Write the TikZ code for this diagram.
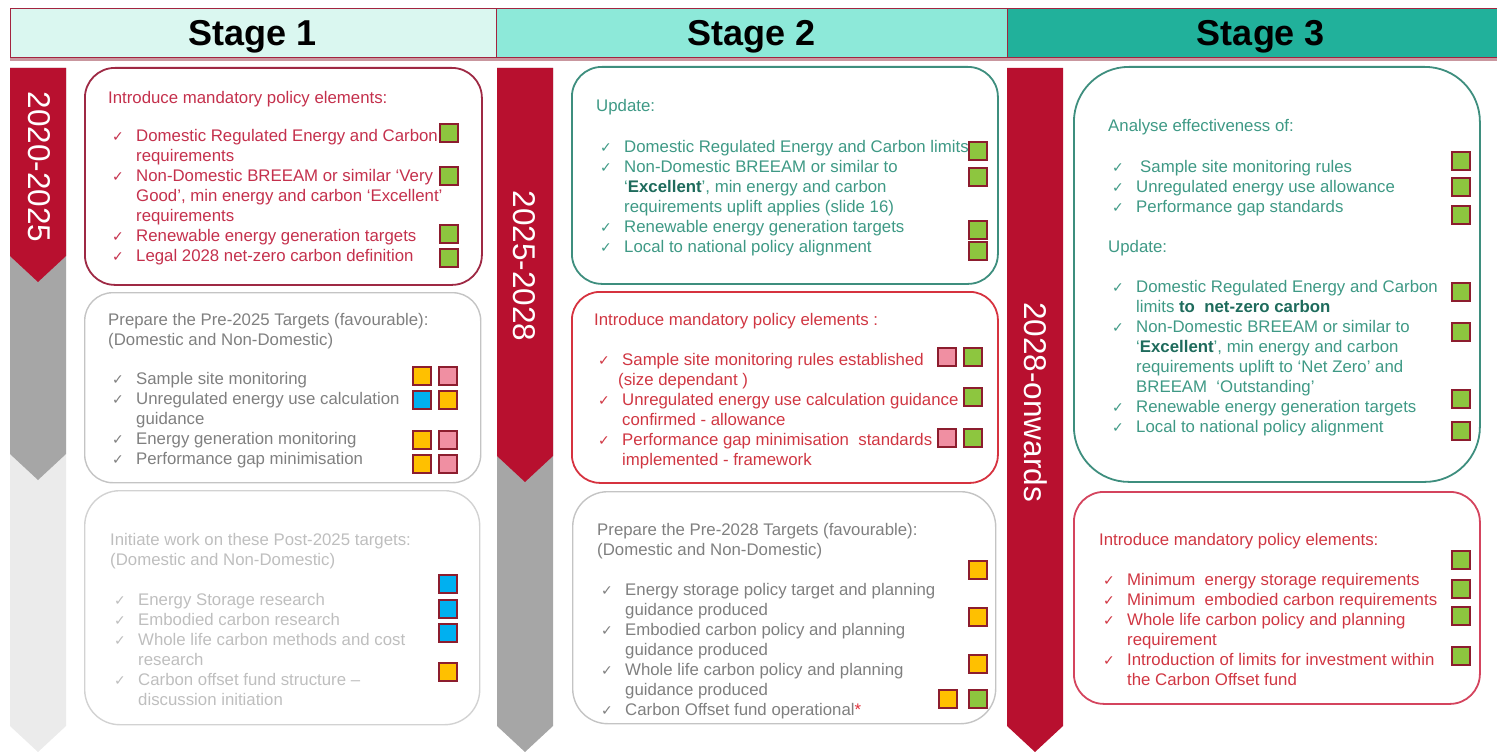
\documentclass[tikz,border=0pt]{standalone}
\usepackage{fontspec}
\setmainfont{Liberation Sans}
\newfontfamily\ckfont{DejaVu Sans}
\usetikzlibrary{positioning}
\definecolor{hdrline}{HTML}{A3243F}
\definecolor{hdrshadow}{HTML}{C9979F}
\definecolor{stgone}{HTML}{DAF7F0}
\definecolor{stgtwo}{HTML}{8DE9D9}
\definecolor{stgthree}{HTML}{21B19B}
\definecolor{chevred}{HTML}{B8102F}
\definecolor{chevgray}{HTML}{A6A6A6}
\definecolor{chevlight}{HTML}{EBEBEB}
\definecolor{maroon}{HTML}{9E2944}
\definecolor{redtxt}{HTML}{C4304C}
\definecolor{redline}{HTML}{D6323F}
\definecolor{redtxtb}{HTML}{D03642}
\definecolor{pinkline}{HTML}{D4445E}
\definecolor{tealline}{HTML}{3E8E7E}
\definecolor{tealtxt}{HTML}{3E9985}
\definecolor{tealdark}{HTML}{1E6B5C}
\definecolor{grayline}{HTML}{C4C4C4}
\definecolor{graytxt}{HTML}{7F7F7F}
\definecolor{paleline}{HTML}{D2D2D2}
\definecolor{paletxt}{HTML}{BEBEBE}
\definecolor{sqline}{HTML}{8C1D2E}
\definecolor{sqgreen}{HTML}{8DC63F}
\definecolor{sqorange}{HTML}{FFC000}
\definecolor{sqpink}{HTML}{F08FA2}
\definecolor{sqblue}{HTML}{00B0F0}
\definecolor{starred}{HTML}{E0303A}
\newcommand{\tickmark}{\hspace*{4pt}\makebox[24pt][l]{\ckfont\fontsize{14}{20}\selectfont ✓}}
\newcommand{\tickpad}{\hspace*{28pt}}

\begin{document}
\begin{tikzpicture}[x=1pt, y=-1pt,
  stagecell/.style={draw=hdrline, line width=0.8pt, anchor=north west, inner sep=0pt, minimum height=49pt},
  stagelabel/.style={anchor=base, font=\fontsize{36}{40}\selectfont\bfseries, text=black},
  yearlabel/.style={text=white, rotate=-90, font=\fontsize{31.5}{36}\selectfont},
  panel/.style={anchor=north west, inner sep=0pt, rounded corners=#1, line width=1.8pt},
  paneltext/.style={anchor=north west, inner sep=0pt, align=left, font=\fontsize{16.8}{20}\selectfont},
  sq/.style={draw=sqline, line width=2pt, minimum size=18pt, inner sep=0pt}]
\useasboundingbox (0,0) rectangle (1497,752);

% stage header
\node[stagecell, fill=stgone, minimum width=486pt] (hdr1) at (10,8) {};
\node[stagecell, fill=stgtwo, minimum width=511pt] (hdr2) at (496,8) {};
\node[stagecell, fill=stgthree, minimum width=510pt] (hdr3) at (1007,8) {};
\draw[hdrshadow, line width=3pt] ([yshift=-1.5pt]hdr1.south west) -- ([yshift=-1.5pt]hdr3.south east);
\node[stagelabel] (st1) at (253,46) {Stage 1};
\node[stagelabel] (st2) at (752,46) {Stage 2};
\node[stagelabel] (st3) at (1261,46) {Stage 3};

% timeline chevrons
\foreach \lx/\tip/\col in {10/752/chevlight, 10/480/chevgray, 10/282/chevred, 497/752/chevgray, 497/482/chevred, 1007/752/chevred}
  \fill[\col] (\lx,68) -- (\lx+56,68) -- (\lx+56,\tip-26) -- (\lx+28,\tip) -- (\lx,\tip-26) -- cycle;
\node[yearlabel] (yr1) at (39,167) {2020-2025};
\node[yearlabel] (yr2) at (524,266) {2025-2028};
\node[yearlabel] (yr3) at (1036,402) {2028-onwards};

% stage 1
\node[panel=30pt, draw=maroon, minimum width=397pt, minimum height=217pt] (polA) at (84,67) {};
\node[paneltext, text=redtxt] (polAtxt) at (108,89) {\strut Introduce mandatory policy elements:\\[18pt]
\tickmark Domestic Regulated Energy and Carbon\\
\tickpad requirements\\
\tickmark Non-Domestic BREEAM or similar ‘Very\\
\tickpad Good’, min energy and carbon ‘Excellent’\\
\tickpad requirements\\
\tickmark Renewable energy generation targets\\
\tickmark Legal 2028 net-zero carbon definition};

\node[panel=28pt, draw=grayline, line width=1.4pt, minimum width=396pt, minimum height=190pt] (prepA) at (84,292) {};
\node[paneltext, text=graytxt] (prepAtxt) at (108,311) {\strut Prepare the Pre-2025 Targets (favourable):\\
(Domestic and Non-Domestic)\\[19pt]
\tickmark Sample site monitoring\\
\tickmark Unregulated energy use calculation\\
\tickpad guidance\\
\tickmark Energy generation monitoring\\
\tickmark Performance gap minimisation};

\node[panel=35pt, draw=paleline, line width=1.4pt, minimum width=395pt, minimum height=234pt] (initA) at (84,490) {};
\node[paneltext, text=paletxt] (initAtxt) at (110,531) {\strut Initiate work on these Post-2025 targets:\\
(Domestic and Non-Domestic)\\[20pt]
\tickmark Energy Storage research\\
\tickmark Embodied carbon research\\
\tickmark Whole life carbon methods and cost\\
\tickpad research\\
\tickmark Carbon offset fund structure –\\
\tickpad discussion initiation};

% stage 2
\node[panel=30pt, draw=tealline, minimum width=426pt, minimum height=217pt] (updB) at (571,66) {};
\node[paneltext, text=tealtxt] (updBtxt) at (596,97) {\strut Update:\\[21pt]
\tickmark Domestic Regulated Energy and Carbon limits\\
\tickmark Non-Domestic BREEAM or similar to\\
\tickpad ‘\textbf{\color{tealdark}Excellent}’, min energy and carbon\\
\tickpad requirements uplift applies (slide 16)\\
\tickmark Renewable energy generation targets\\
\tickmark Local to national policy alignment};

\node[panel=28pt, draw=redline, minimum width=426pt, minimum height=191pt] (polB) at (571,291) {};
\node[paneltext, text=redtxtb] (polBtxt) at (594,311) {\strut Introduce mandatory policy elements :\\[20pt]
\tickmark Sample site monitoring rules established\\
\hspace*{24pt}(size dependant )\\
\tickmark Unregulated energy use calculation guidance\\
\tickpad confirmed - allowance\\
\tickmark Performance gap minimisation\ \ standards\\
\tickpad implemented - framework};

\node[panel=35pt, draw=grayline, line width=1.4pt, minimum width=423pt, minimum height=232pt] (prepB) at (572,491) {};
\node[paneltext, text=graytxt] (prepBtxt) at (597,521) {\strut Prepare the Pre-2028 Targets (favourable):\\
(Domestic and Non-Domestic)\\[20pt]
\tickmark Energy storage policy target and planning\\
\tickpad guidance produced\\
\tickmark Embodied carbon policy and planning\\
\tickpad guidance produced\\
\tickmark Whole life carbon policy and planning\\
\tickpad guidance produced\\
\tickmark Carbon Offset fund operational\textcolor{starred}{*}};

% stage 3
\node[panel=55pt, draw=tealline, minimum width=406pt, minimum height=415pt] (anaC) at (1073,66) {};
\node[paneltext, text=tealtxt] (anaCtxt) at (1108,117) {\strut Analyse effectiveness of:\\[21pt]
\tickmark\hspace*{4pt}Sample site monitoring rules\\
\tickmark Unregulated energy use allowance\\
\tickmark Performance gap standards\\[20pt]
Update:\\[20pt]
\tickmark Domestic Regulated Energy and Carbon\\
\tickpad limits \textbf{\color{tealdark}to\ \ net-zero carbon}\\
\tickmark Non-Domestic BREEAM or similar to\\
\tickpad ‘\textbf{\color{tealdark}Excellent}’, min energy and carbon\\
\tickpad requirements uplift to ‘Net Zero’ and\\
\tickpad BREEAM\ \ ‘Outstanding’\\
\tickmark Renewable energy generation targets\\
\tickmark Local to national policy alignment};

\node[panel=30pt, draw=pinkline, minimum width=406pt, minimum height=212pt] (polC) at (1073,491) {};
\node[paneltext, text=redtxtb] (polCtxt) at (1099,531) {\strut Introduce mandatory policy elements:\\[20pt]
\tickmark Minimum\ \ energy storage requirements\\
\tickmark Minimum\ \ embodied carbon requirements\\
\tickmark Whole life carbon policy and planning\\
\tickpad requirement\\
\tickmark Introduction of limits for investment within\\
\tickpad the Carbon Offset fund};

% status squares
\foreach \c/\x/\y [count=\i] in {
  green/449/133, green/449/176, green/449/234, green/449/258,
  orange/422/376, pink/448/376, blue/422/400, orange/448/400,
  orange/422/440, pink/448/440, orange/422/464, pink/448/464,
  blue/448/584, blue/448/609, blue/448/633, orange/448/672,
  green/978/151, green/978/177, green/978/230, green/978/251,
  pink/947/357, green/973/357, green/973/397, pink/947/438, green/973/438,
  orange/978/570, orange/978/617, orange/978/664, orange/948/699, green/978/699,
  green/1461/161, green/1461/187, green/1461/215, green/1461/292,
  green/1461/332, green/1461/399, green/1461/431,
  green/1461/560, green/1461/589, green/1461/616, green/1461/656}
  \node[sq, fill=sq\c] (sq\i) at (\x,\y) {};
\end{tikzpicture}
\end{document}
